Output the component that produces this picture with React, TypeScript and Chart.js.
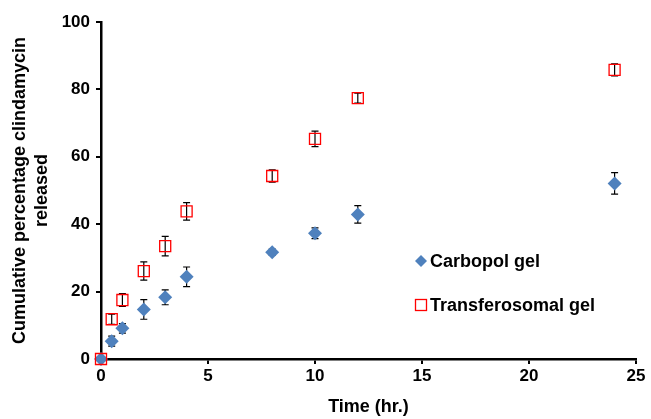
import React, { useEffect, useRef } from "react";
import { Chart, registerables } from "chart.js";

Chart.register(...registerables);

const timePoints = [0, 0.5, 1, 2, 3, 4, 8, 10, 12, 24];
const carbopolValues = [0, 5.3, 9.1, 14.7, 18.3, 24.4, 31.7, 37.3, 42.9, 52.1];
const carbopolErrors = [0, 1.5, 1.4, 2.9, 2.2, 2.9, 0.9, 1.6, 2.6, 3.2];
const transValues = [0, 11.8, 17.5, 26.1, 33.5, 43.8, 54.3, 65.3, 77.4, 85.8];
const transErrors = [0, 1.5, 1.9, 2.7, 2.9, 2.6, 1.8, 2.3, 1.5, 1.8];
const xTicks = [0, 5, 10, 15, 20, 25];
const yTicks = [0, 20, 40, 60, 80, 100];
const seriesNames = ["Carbopol gel", "Transferosomal gel"];
const xTitle = "Time (hr.)";
const yTitleLines = ["Cumulative percentage clindamycin", "released"];

const FAMILY = "'Liberation Sans', Arial, sans-serif";
const FONT = "bold 18px " + FAMILY;
const BLUE = "#4F81BD";
const RED = "#FF0000";

const errorBarPlugin = {
  id: "errorBars",
  beforeDatasetsDraw(chart: any) {
    const ctx = chart.ctx;
    const xs = chart.scales.x;
    const ys = chart.scales.y;
    ctx.save();
    ctx.strokeStyle = "#000";
    ctx.lineWidth = 1.2;
    chart.data.datasets.forEach((ds: any) => {
      const errs: number[] = ds.errors || [];
      ds.data.forEach((p: any, i: number) => {
        const e = errs[i];
        if (!e) return;
        const px = xs.getPixelForValue(p.x);
        const top = ys.getPixelForValue(p.y + e);
        const bot = ys.getPixelForValue(p.y - e);
        ctx.beginPath();
        ctx.moveTo(px, top);
        ctx.lineTo(px, bot);
        ctx.moveTo(px - 3.5, top);
        ctx.lineTo(px + 3.5, top);
        ctx.moveTo(px - 3.5, bot);
        ctx.lineTo(px + 3.5, bot);
        ctx.stroke();
      });
    });
    ctx.restore();
  },
};

const decorPlugin = {
  id: "decor",
  afterDraw(chart: any) {
    const ctx = chart.ctx;
    const area = chart.chartArea;
    ctx.save();
    ctx.font = FONT;
    ctx.fillStyle = "#000";
    ctx.textAlign = "center";
    ctx.textBaseline = "middle";
    ctx.fillText(xTitle, (area.left + area.right) / 2, 407);
    const cy = (area.top + area.bottom) / 2;
    ctx.save();
    ctx.translate(20, cy);
    ctx.rotate(-Math.PI / 2);
    ctx.fillText(yTitleLines[0], 0, 0);
    ctx.restore();
    ctx.save();
    ctx.translate(42, cy);
    ctx.rotate(-Math.PI / 2);
    ctx.fillText(yTitleLines[1], 0, 0);
    ctx.restore();

    // legend
    const lx = 421;
    const ly1 = 261;
    const ly2 = 305;
    ctx.fillStyle = BLUE;
    ctx.beginPath();
    ctx.moveTo(lx, ly1 - 6);
    ctx.lineTo(lx + 6, ly1);
    ctx.lineTo(lx, ly1 + 6);
    ctx.lineTo(lx - 6, ly1);
    ctx.closePath();
    ctx.fill();
    ctx.strokeStyle = RED;
    ctx.lineWidth = 1.3;
    ctx.strokeRect(lx - 5.5, ly2 - 5.5, 11, 11);
    ctx.fillStyle = "#000";
    ctx.textAlign = "left";
    ctx.fillText(seriesNames[0], 430, ly1 + 1);
    ctx.fillText(seriesNames[1], 430, ly2 + 1);
    ctx.restore();
  },
};

export default function App() {
  const ref = useRef<HTMLCanvasElement | null>(null);
  useEffect(() => {
    if (!ref.current) return;
    const chart = new Chart(ref.current, {
      type: "scatter",
      data: {
        datasets: [
          {
            label: seriesNames[1],
            data: timePoints.map((t, i) => ({ x: t, y: transValues[i] })),
            errors: transErrors,
            pointStyle: "rect",
            pointRadius: 7.8,
            backgroundColor: "rgba(255,255,255,0)",
            borderColor: RED,
            borderWidth: 1.3,
            clip: false,
          },
          {
            label: seriesNames[0],
            data: timePoints.map((t, i) => ({ x: t, y: carbopolValues[i] })),
            errors: carbopolErrors,
            pointStyle: "rectRot",
            pointRadius: 7,
            backgroundColor: BLUE,
            borderColor: BLUE,
            borderWidth: 0,
            clip: false,
          },
        ],
      },
      options: {
        responsive: false,
        animation: false,
        devicePixelRatio: 1,
        layout: { padding: { left: 0, top: 22, right: 15, bottom: 0 } },
        plugins: {
          legend: { display: false },
          tooltip: { enabled: false },
        },
        scales: {
          x: {
            type: "linear",
            min: 0,
            max: 25,
            afterFit: (s: any) => {
              s.height = 60;
            },
            afterBuildTicks: (s: any) => {
              s.ticks = xTicks.map((v) => ({ value: v }));
            },
            ticks: {
              font: { family: FAMILY, size: 17, weight: "bold" },
              color: "#000",
              padding: 2,
              maxRotation: 0,
            },
            grid: {
              drawOnChartArea: false,
              drawTicks: true,
              tickLength: 5,
              color: "#000",
              lineWidth: 2,
            },
            border: { color: "#000", width: 2.5 },
          },
          y: {
            type: "linear",
            min: 0,
            max: 100,
            afterFit: (s: any) => {
              s.width = 101;
            },
            afterBuildTicks: (s: any) => {
              s.ticks = yTicks.map((v) => ({ value: v }));
            },
            ticks: {
              font: { family: FAMILY, size: 17, weight: "bold" },
              color: "#000",
              padding: 6,
            },
            grid: {
              drawOnChartArea: false,
              drawTicks: true,
              tickLength: 5,
              color: "#000",
              lineWidth: 2,
            },
            border: { color: "#000", width: 2.5 },
          },
        },
      },
      plugins: [errorBarPlugin, decorPlugin],
    } as any);
    return () => chart.destroy();
  }, []);
  return (
    <div style={{ position: "absolute", left: 0, top: 0, width: 651, height: 419, background: "#fff" }}>
      <canvas ref={ref} width={651} height={419} style={{ display: "block" }} />
    </div>
  );
}
